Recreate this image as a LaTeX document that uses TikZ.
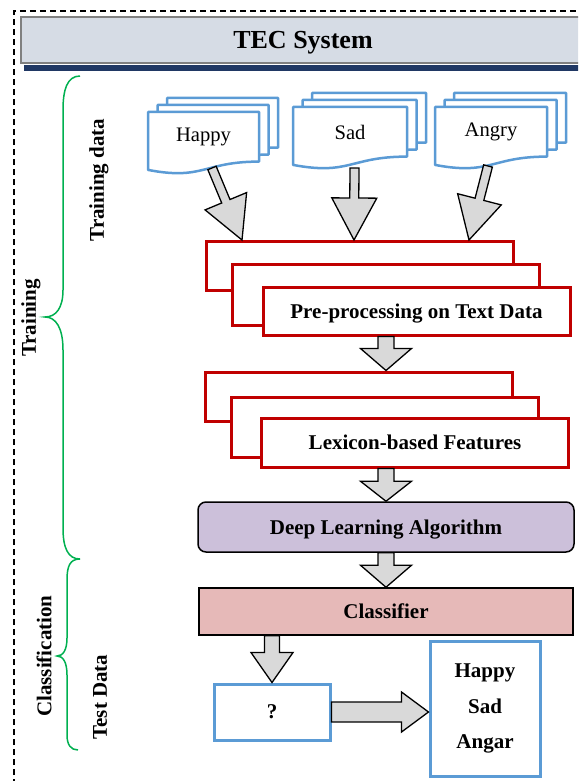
\documentclass[tikz,border=0pt]{standalone}
\usepackage{fontspec}
\setmainfont{Liberation Serif}
\usepackage{tikz}
\usetikzlibrary{calc, shapes, arrows}
\usetikzlibrary{positioning}

\definecolor{tecblue}{RGB}{91,155,213}
\definecolor{tecred}{RGB}{192,0,0}
\definecolor{tecgreen}{RGB}{0,176,80}
\definecolor{arrowgray}{RGB}{217,217,217}
\definecolor{dlpurple}{RGB}{204,192,218}
\definecolor{clfpink}{RGB}{230,185,184}
\definecolor{headfill}{RGB}{214,220,229}
\definecolor{headnavy}{RGB}{32,56,100}

\newcommand{\labfont}{\fontsize{21}{25}\selectfont\bfseries}
\newcommand{\docfont}{\fontsize{20.6}{24}\selectfont}

\tikzstyle{redbox} = [rectangle, draw=tecred, line width=3pt, fill=white, minimum width=307pt, text depth=0pt, font=\labfont]
\tikzstyle{bluebox} = [rectangle, draw=tecblue, line width=3pt, fill=white, font=\labfont]
\tikzstyle{blackbox} = [rectangle, draw, line width=1.5pt, text depth=0pt, font=\labfont]
\tikzstyle{docpage} = [draw=tecblue, line width=2.5pt, fill=white, line join=round]
\tikzstyle{blockarr} = [draw=black, line width=1.3pt, fill=arrowgray]
\tikzstyle{bracket} = [draw=tecgreen, line width=1.5pt]
\tikzstyle{sidelabel} = [rotate=90, font=\labfont]

% shaft half width, head half width, head length, from, to
\newcommand{\blockarrow}[5]{%
  \coordinate (ba) at ($(#5)!#3!(#4)$);
  \draw[blockarr] ($(#4)!#1!90:(#5)$) -- ($(ba)!#1!90:(#5)$) -- ($(ba)!#2!90:(#5)$) -- (#5)
    -- ($(ba)!#2!-90:(#5)$) -- ($(ba)!#1!-90:(#5)$) -- ($(#4)!#1!-90:(#5)$) -- cycle;
}

% name, x, y, width, text
\newcommand{\docstack}[5]{%
  \foreach \k in {2,1,0} {
    \pgfmathsetmacro{\pgx}{#2+\k*9.5}
    \pgfmathsetmacro{\pgy}{#3-\k*7}
    \draw[docpage] (\pgx, \pgy) -- (\pgx+#4, \pgy) -- (\pgx+#4, \pgy+49.6)
      .. controls (\pgx+0.5*#4, \pgy+49.6) and (\pgx+0.5*#4, \pgy+68.6) .. (\pgx, \pgy+57.9) -- cycle;
  }
  \node at (#2+0.5*#4, #3+25) (#1) {\docfont #5};
}

\begin{document}
\begin{tikzpicture}[x=1pt, y=-1pt]

        \clip (0, 0) rectangle (578, 781);
        \draw[line width=1.5pt, dash pattern=on 6pt off 4pt] (14, 795) -- (14, 11) -- (595, 11);

        \fill[headnavy] (24, 65) rectangle (595, 71);
        \node[blackbox, draw=gray, fill=headfill, minimum width=564pt, minimum height=46pt, font=\fontsize{26}{30}\selectfont\bfseries] at (303, 40) (tec) {TEC System};

        \draw[bracket] (80, 76) .. controls (67, 76) and (63, 90) .. (63, 110) -- (63, 290)
            .. controls (63, 308) and (56, 317) .. (45, 317) .. controls (56, 317) and (63, 328) .. (63, 350)
            -- (63, 528) .. controls (63, 548) and (68, 559) .. (80, 559);
        \draw[bracket] (80, 559) .. controls (70, 559) and (67, 566) .. (67, 580) -- (67, 638)
            .. controls (67, 650) and (63, 656) .. (57, 656) .. controls (63, 656) and (67, 662) .. (67, 675)
            -- (67, 735) .. controls (67, 745) and (71, 750) .. (78, 750);

        \node[sidelabel] at (31, 318) (training) {Training};
        \node[sidelabel] at (99, 180) (trainingdata) {Training data};
        \node[sidelabel] at (44, 656) (classification) {Classification};
        \node[sidelabel] at (100, 697) (testdata) {Test Data};

        \docstack{happy}{148}{112}{111}{Happy}
        \docstack{sad}{293}{107}{114}{Sad}
        \docstack{angry}{435}{107}{112}{Angry}

        \node[redbox, minimum height=49pt] at (359.5, 265.5) (preC) {};
        \node[redbox, minimum height=61pt] at (385.5, 294.5) (preB) {};
        \node[redbox, minimum height=48pt] at (416.5, 311) (pre) {Pre-processing on Text Data};

        \node[redbox, minimum height=49pt] at (358.5, 396.5) (lexC) {};
        \node[redbox, minimum height=60pt] at (384.5, 427) (lexB) {};
        \node[redbox, minimum height=49pt] at (415, 442.5) (lex) {Lexicon-based Features};

        \node[blackbox, rounded corners=8pt, fill=dlpurple, minimum width=376pt, minimum height=50pt] at (386, 527) (dla) {Deep Learning Algorithm};
        \node[blackbox, fill=clfpink, minimum width=374pt, minimum height=47pt] at (386, 611.5) (clf) {Classifier};

        \node[bluebox, minimum width=116pt, minimum height=56pt] at (272, 712) (query) {?};
        \node[bluebox, minimum width=110pt, minimum height=135pt, align=center, font=\fontsize{21}{36.5}\selectfont\bfseries] at (485, 708.5) (result) {Happy\\[-1pt]Sad\\[-1pt]Angar};

        \coordinate (happyFoot) at (212, 168);
        \coordinate (happyTip) at (242, 240);
        \coordinate (sadFoot) at (354.5, 168);
        \coordinate (sadTip) at (354, 240);
        \coordinate (angryFoot) at (488, 166);
        \coordinate (angryTip) at (469, 240);
        \blockarrow{4.5pt}{22.5pt}{42pt}{happyFoot}{happyTip}
        \blockarrow{4.5pt}{22.5pt}{42pt}{sadFoot}{sadTip}
        \blockarrow{4.5pt}{22.5pt}{42pt}{angryFoot}{angryTip}

        \coordinate (preOut) at (pre.south -| dla.north);
        \coordinate (lexIn) at (lexC.north -| dla.north);
        \coordinate (lexOut) at (lex.south -| dla.north);
        \coordinate (clfOut) at (clf.south -| query.north);
        \coordinate (resultIn) at (query.east -| result.west);
        \blockarrow{8pt}{25.5pt}{22pt}{preOut}{lexIn}
        \blockarrow{8pt}{25.5pt}{20pt}{lexOut}{dla.north}
        \blockarrow{8pt}{25.5pt}{22pt}{dla.south}{clf.north}
        \blockarrow{7.5pt}{21pt}{30pt}{clfOut}{query.north}
        \blockarrow{10pt}{20pt}{27pt}{query.east}{resultIn}

    \end{tikzpicture}
\end{document}
